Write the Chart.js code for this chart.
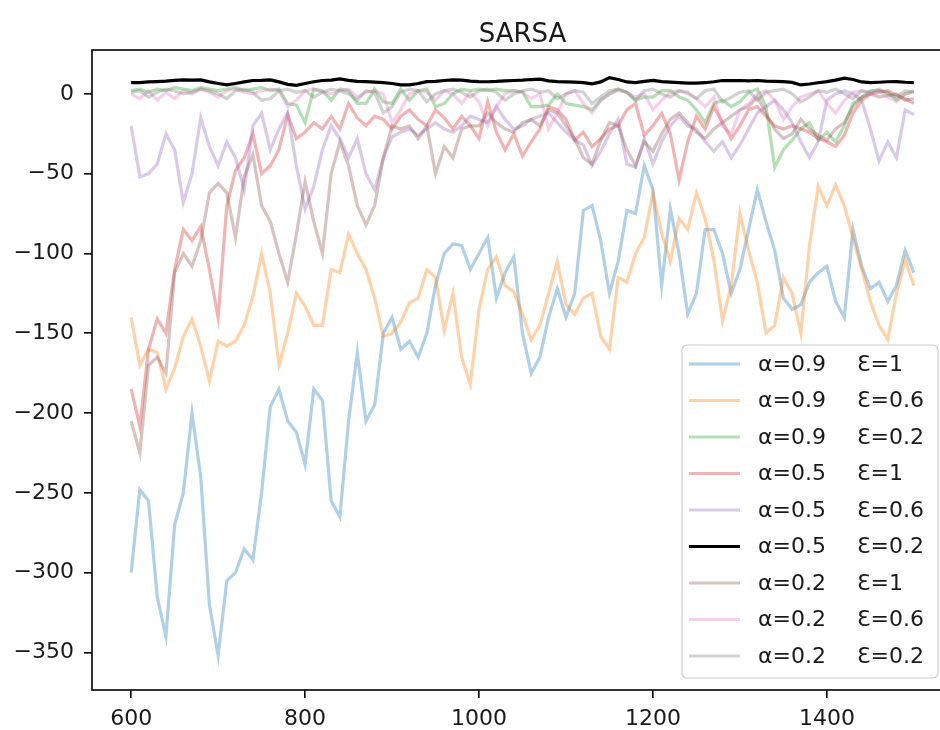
<!DOCTYPE html>
<html lang="en">
<head>
<meta charset="UTF-8" />
<title>SARSA</title>
<script src="https://cdn.jsdelivr.net/npm/chart.js"></script>
<style>
  html, body {
    margin: 0;
    padding: 0;
    background: #fff;
    overflow: hidden;
  }
  #chart {
    display: block;
  }
</style>
</head>
<body>
<canvas id="chart" width="1000" height="730"></canvas>
<script>
  // episodes 600..1500, one reading every 10 episodes
  const episodes = [];
  for (let e = 600; e <= 1500; e += 10) episodes.push(e);

  const xTicks = [600, 800, 1000, 1200, 1400];
  const yTicks = [0, -50, -100, -150, -200, -250, -300, -350];

  const alphaLabels = ['α=0.9', 'α=0.9', 'α=0.9', 'α=0.5', 'α=0.5', 'α=0.5', 'α=0.2', 'α=0.2', 'α=0.2'];
  const epsLabels = ['Ɛ=1', 'Ɛ=0.6', 'Ɛ=0.2', 'Ɛ=1', 'Ɛ=0.6', 'Ɛ=0.2', 'Ɛ=1', 'Ɛ=0.6', 'Ɛ=0.2'];

  const a09e1 = [
    -300, -248, -255, -315, -340, -270, -250, -200, -240, -320,
    -352, -305, -300, -285, -292, -250, -196, -185, -205, -212,
    -232, -185, -192, -255, -265, -205, -162, -205, -195, -150,
    -140, -160, -155, -165, -150, -120, -100, -94, -95, -110,
    -100, -90, -128, -112, -102, -150, -175, -165, -140, -122,
    -140, -125, -73, -70, -92, -125, -105, -73, -75, -45,
    -60, -120, -72, -100, -138, -125, -85, -85, -100, -125,
    -110, -85, -60, -80, -98, -128, -135, -132, -118, -112,
    -108, -130, -140, -85, -108, -122, -118, -130, -120, -98,
    -112
  ];
  const a09e06 = [
    -140, -170, -160, -162, -185, -172, -152, -141, -158, -180,
    -155, -158, -155, -145, -127, -100, -125, -170, -150, -125,
    -133, -145, -145, -110, -112, -88, -100, -110, -128, -152,
    -150, -143, -131, -128, -110, -115, -148, -125, -165, -182,
    -135, -110, -102, -120, -124, -138, -154, -145, -125, -105,
    -132, -138, -128, -125, -152, -160, -115, -118, -100, -90,
    -62, -87, -105, -78, -85, -62, -78, -104, -142, -120,
    -75, -98, -118, -150, -145, -115, -125, -150, -95, -58,
    -70, -57, -70, -90, -110, -130, -145, -154, -125, -104,
    -120
  ];
  const a09e02 = [
    2, 3, 1, 3, 2, 4, 3, 2, 4, 3,
    2, 3, 4, 2, 3, 4, 2, 3, -6, -7,
    -18, 3, 2, -4, 3, 2, -6, -6, 3, -5,
    -6, 3, -4, 2, 3, -8, -6, 0, 3, 2,
    3, 2, 3, 2, 2, 1, -8, -8, -7, 0,
    -6, -7, -8, -10, -4, 0, 3, 1, -4, -2,
    -2, 2, 2, -2, -4, -10, -18, -6, -4, -8,
    -5, 1, 3, -8, -46, -35, -29, -22, -18, -29,
    -24, -30, -20, -6, -2, 2, 2, 1, -4, 0,
    2
  ];
  const a05e1 = [
    -185, -208, -160, -141, -150, -110, -85, -92, -83, -110,
    -140, -70, -48, -40, -25, -50, -45, -35, -13, -28,
    -24, -18, -22, -14, -22, -6, -15, -20, -14, -16,
    -22, -14, -10, -16, -20, -10, -15, -22, -14, -20,
    -28, -5, -24, -35, -25, -39, -30, -22, -8, -10,
    -16, -29, -24, -33, -28, -22, -20, -10, -6, -26,
    -20, -12, -25, -54, -30, -14, -22, -8, -18, -28,
    -20, -10, -8, -14, -20, -22, -20, -22, -24, -28,
    -30, -33, -26, -12, -4, 0, 1, 2, -1, -3,
    -6
  ];
  const a05e06 = [
    -20, -52, -50, -44, -25, -35, -68, -50, -15, -33,
    -45, -30, -40, -60, -20, -12, -35, -22, -12, -45,
    -72, -58, -35, -20, -28, -40, -28, -50, -60, -40,
    -27, -24, -22, -26, -22, -18, -22, -24, -20, -14,
    -16, -18, -8, -16, -22, -20, -16, -14, -12, -18,
    -24, -29, -32, -45, -36, -25, -16, -44, -46, -28,
    -44, -30, -20, -14, -20, -22, -30, -36, -30, -40,
    -32, -22, -12, -8, -4, -10, -18, -30, -40, -30,
    -4, 0, 2, 0, -4, -22, -42, -30, -40, -10,
    -13
  ];
  const a05e02 = [
    7, 7, 7.5, 7.7, 8, 8.5, 8.8, 8.6, 8.8, 7.5,
    6.5, 5.6, 6.5, 7.5, 8.4, 8.5, 8.8, 7.5, 6, 5.3,
    6.5, 7.6, 8.4, 8.6, 9.4, 8.5, 7.8, 7.7, 7.4, 7.1,
    6.5, 5.6, 5.6, 6.5, 7.7, 7.8, 8.4, 8.8, 8.6, 8,
    7.7, 7.6, 7.8, 8.2, 8.4, 8.6, 9, 9.2, 8.2, 7.7,
    7.5, 7.4, 7.1, 6.3, 7.5, 10.2, 9, 7.5, 7.1, 7.8,
    8.4, 7.7, 7.4, 7.1, 6.8, 6.7, 7, 7.6, 8.4, 8.3,
    8.4, 8.2, 8.4, 8, 7.8, 7.7, 7.2, 5.6, 6.2, 7,
    7.7, 8.6, 9.8, 9, 7.5, 7.1, 7.3, 7.6, 7.7, 7.3,
    7.1
  ];
  const a02e1 = [
    -205, -225, -170, -165, -175, -112, -100, -108, -92, -62,
    -56, -62, -90, -52, -38, -70, -80, -100, -118, -88,
    -55, -80, -100, -50, -30, -45, -70, -82, -70, -40,
    -20, -22, -20, -28, -20, -50, -33, -40, -22, -20,
    -20, -12, -18, -22, -24, -18, -16, -20, -10, -12,
    -20, -28, -40, -44, -29, -18, -20, -35, -45, -30,
    -36, -25, -16, -12, -18, -24, -28, -22, -18, -14,
    -10, -8, -2, -12, -22, -28, -25, -16, -22, -26,
    -29, -22, -18, -8, -2, 0, -2, -1, 0, -4,
    -3
  ];
  const a02e06 = [
    0, -3, 2, -4, 1, -3, 2, 0, 3, 1,
    -2, 2, 3, 1, 0, 2, 3, 2, -8, -4,
    2, 3, 1, 0, 2, 3, -2, 1, 2, 0,
    -18, -10, 0, 2, 1, -4, 2, 0, -6, 1,
    -5, -20, -8, 0, 2, 1, -3, 0, -22, -12,
    0, 2, -6, -12, -4, 0, 2, 1, -2, 0,
    -10, -4, 1, 2, 0, -3, -8, -2, -20, -25,
    -10, -6, 0, 2, -4, -16, -8, -2, 0, 2,
    -6, -12, -4, 1, 2, 0, 2, -2, -5, 0,
    1
  ];
  const a02e02 = [
    1, 2, -2, 1, 3, 2, 0, 1, 3, 2,
    0, -3, 2, 3, 1, -4, -3, 2, 3, 1,
    2, -2, 1, 3, 2, 0, -4, 2, 1, -12,
    -8, 1, 3, 2, -5, 0, 2, 3, 1, -2,
    2, 3, 1, -4, 0, 2, 3, 1, 2, -3,
    0, 2, 1, -6, -2, 2, 3, 1, -4, 2,
    3, 0, -2, 2, 1, -3, 2, 3, -5, -2,
    1, 2, -4, 1, 2, 3, 0, -5, -2, 2,
    1, 3, 0, -3, 2, 1, 3, 0, -2, 2,
    1
  ];

  const series = [a09e1, a09e06, a09e02, a05e1, a05e06, a05e02, a02e1, a02e06, a02e02];
  const colors = [
    'rgba(31,119,180,0.35)', 'rgba(255,127,14,0.35)', 'rgba(44,160,44,0.35)',
    'rgba(214,39,40,0.35)', 'rgba(148,103,189,0.35)', '#000000',
    'rgba(140,86,75,0.35)', 'rgba(227,119,194,0.35)', 'rgba(127,127,127,0.35)'
  ];

  const FONT = "'DejaVu Sans', sans-serif";
  Chart.defaults.font.family = FONT;
  Chart.defaults.color = '#1a1a1a';

  const datasets = series.map((vals, i) => ({
    label: alphaLabels[i] + '   ' + epsLabels[i],
    data: vals.map((v, j) => ({ x: episodes[j], y: v })),
    borderColor: colors[i],
    borderWidth: 3.2,
    pointRadius: 0,
    tension: 0,
    fill: false,
    order: series.length - i   // later series on top, like matplotlib
  }));

  // frame, title and an in-axes legend drawn like matplotlib
  const mplDecor = {
    id: 'mplDecor',
    afterDraw(chart) {
      const ctx = chart.ctx;
      const a = chart.chartArea;
      ctx.save();
      ctx.strokeStyle = '#000';
      ctx.lineWidth = 1.6;
      ctx.strokeRect(a.left, a.top, a.right - a.left, a.bottom - a.top);

      ctx.fillStyle = '#1a1a1a';
      ctx.font = '26px ' + FONT;
      ctx.textAlign = 'center';
      ctx.textBaseline = 'alphabetic';
      ctx.fillText('SARSA', (a.left + a.right) / 2, a.top - 8);

      // legend box
      const w = 256, h = 333;
      const x0 = a.right - 15 - w, y0 = a.bottom - 12 - h;
      ctx.beginPath();
      ctx.roundRect(x0, y0, w, h, 5);
      ctx.fillStyle = 'rgba(255,255,255,0.8)';
      ctx.fill();
      ctx.strokeStyle = '#cccccc';
      ctx.lineWidth = 1.2;
      ctx.stroke();

      ctx.font = '22px ' + FONT;
      ctx.textAlign = 'left';
      ctx.textBaseline = 'middle';
      chart.data.datasets.forEach((ds, i) => {
        const yy = y0 + 19 + i * 36.5;
        ctx.strokeStyle = ds.borderColor;
        ctx.lineWidth = 3.2;
        ctx.beginPath();
        ctx.moveTo(x0 + 7, yy);
        ctx.lineTo(x0 + 58, yy);
        ctx.stroke();
        ctx.fillStyle = '#1a1a1a';
        ctx.fillText(alphaLabels[i], x0 + 76, yy + 1);
        ctx.fillText(epsLabels[i], x0 + 175, yy + 1);
      });
      ctx.restore();
    }
  };

  new Chart(document.getElementById('chart').getContext('2d'), {
    type: 'line',
    data: { datasets },
    options: {
      responsive: false,
      animation: false,
      devicePixelRatio: 1,
      layout: { padding: { left: 0, right: 47, top: 50, bottom: 0 } },
      plugins: {
        legend: { display: false },
        title: { display: false },
        tooltip: { enabled: false }
      },
      scales: {
        x: {
          type: 'linear',
          min: 555,
          max: 1545,
          border: { display: false },
          grid: { drawOnChartArea: false, color: '#000', lineWidth: 1.6, tickLength: 8 },
          afterBuildTicks(scale) { scale.ticks = xTicks.map(v => ({ value: v })); },
          ticks: {
            autoSkip: false,
            maxRotation: 0,
            padding: 8,
            color: '#1a1a1a',
            font: { size: 22 },
            callback: v => String(v)
          },
          afterFit(scale) { scale.height = 40; }
        },
        y: {
          min: -373.5,
          max: 27.5,
          border: { display: false },
          grid: { drawOnChartArea: false, color: '#000', lineWidth: 1.6, tickLength: 8 },
          afterBuildTicks(scale) { scale.ticks = yTicks.map(v => ({ value: v })); },
          ticks: {
            autoSkip: false,
            padding: 10,
            color: '#1a1a1a',
            font: { size: 22 },
            callback: v => String(v).replace('-', '\u2212')
          },
          afterFit(scale) { scale.width = 92; }
        }
      }
    },
    plugins: [mplDecor]
  });
</script>
</body>
</html>
